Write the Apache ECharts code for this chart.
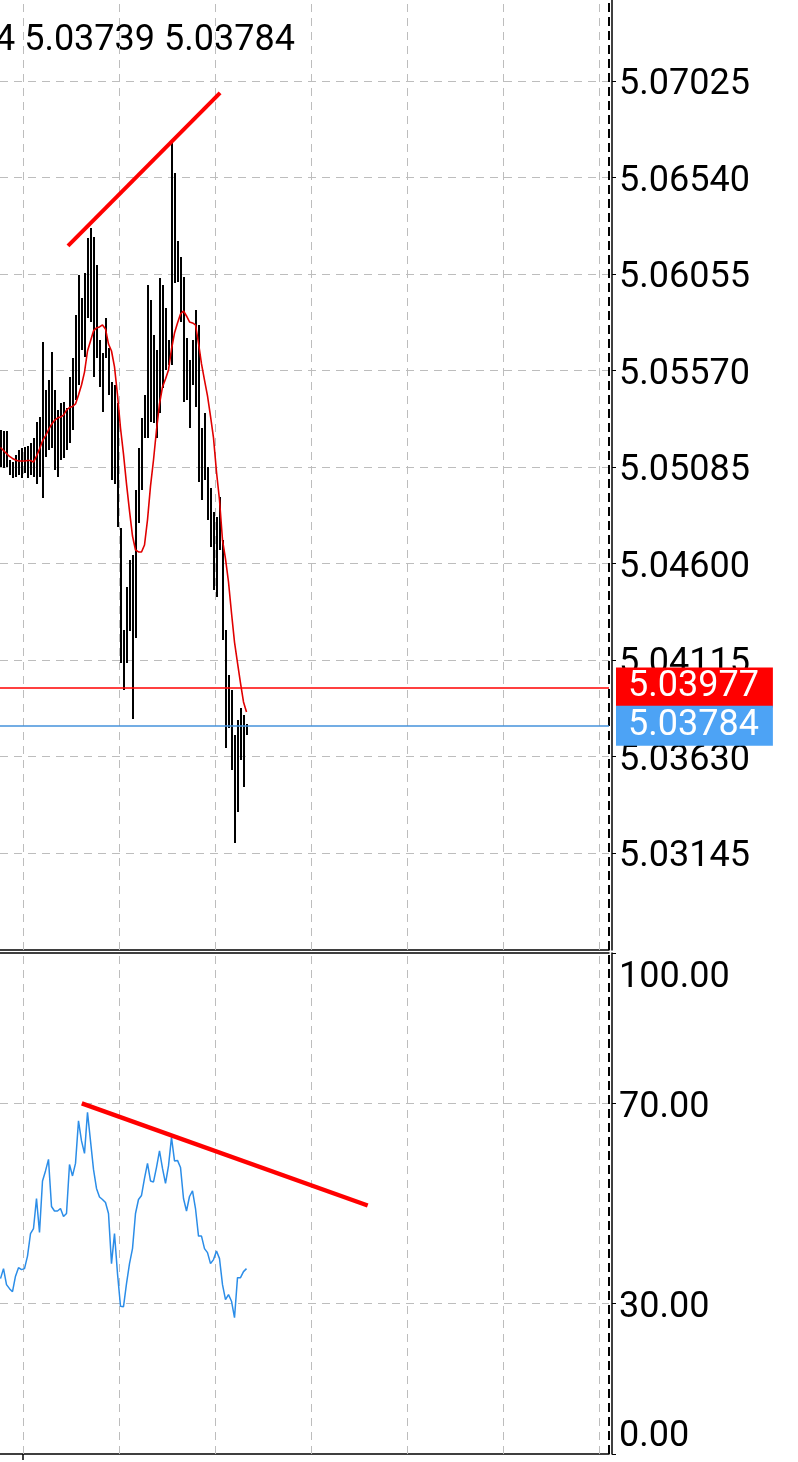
<!DOCTYPE html>
<html><head><meta charset="utf-8">
<style>html,body{margin:0;padding:0;background:#fff;}#c{width:798px;height:1462px;}</style>
<script src="https://cdn.jsdelivr.net/npm/echarts@6/dist/echarts.min.js"></script>
</head><body><div id="c"></div>
<script>
// ---- data ----
const highs = [5.05271,5.05266,5.05266,5.05120,5.05110,5.05145,5.05170,5.05180,5.05186,5.05191,
 5.05206,5.05231,5.05311,5.05336,5.05713,5.05472,5.05522,5.05663,5.05472,5.05371,
 5.05407,5.05412,5.05382,5.05537,5.05633,5.05849,5.06050,5.05934,5.06060,5.06236,
 5.06286,5.06241,5.06100,5.05723,5.05658,5.05834,5.05683,5.05512,5.05497,5.05407,
 5.04778,5.04266,5.04482,5.04618,5.04643,5.04969,5.05180,5.05331,5.05447,5.06000,
 5.05924,5.05748,5.05673,5.06035,5.06000,5.05884,5.05723,5.06713,5.06563,5.06221,
 5.06140,5.06040,5.05733,5.05623,5.05723,5.05874,5.05799,5.05281,5.05356,5.05085,
 5.04979,5.04859,5.04834,5.04934,5.04718,5.04266,5.04040,5.03964,5.03738,5.03813,
 5.03874,5.03839,5.03794];
const lows = [5.05085,5.05080,5.05085,5.05045,5.05030,5.05035,5.05045,5.05030,5.05055,5.05030,
 5.05045,5.05035,5.05000,5.05035,5.04929,5.05135,5.05170,5.05180,5.05070,5.05035,
 5.05120,5.05130,5.05170,5.05206,5.05271,5.05422,5.05497,5.05673,5.05638,5.05834,
 5.05814,5.05537,5.05633,5.05487,5.05361,5.05633,5.05447,5.05020,5.05000,5.04783,
 5.04100,5.03964,5.04100,5.04261,5.03818,5.04226,5.04804,5.04969,5.05231,5.05231,
 5.05311,5.05306,5.05231,5.05356,5.05482,5.05573,5.05598,5.05598,5.06010,5.06015,
 5.05814,5.05412,5.05422,5.05281,5.05497,5.05387,5.05010,5.04919,5.05020,5.04819,
 5.04683,5.04467,5.04432,5.04668,5.04215,5.03673,5.03773,5.03562,5.03195,5.03351,
 5.03612,5.03477,5.03739];
const maValues = [5.05183,5.05168,5.05153,5.05138,5.05128,5.05120,5.05115,5.05115,5.05115,5.05118,
 5.05118,5.05110,5.05140,5.05175,5.05216,5.05241,5.05271,5.05299,5.05319,5.05331,
 5.05336,5.05346,5.05371,5.05384,5.05389,5.05402,5.05447,5.05497,5.05562,5.05668,
 5.05718,5.05769,5.05784,5.05789,5.05799,5.05779,5.05703,5.05668,5.05588,5.05447,
 5.05281,5.05150,5.05000,5.04864,5.04738,5.04668,5.04658,5.04658,5.04693,5.04819,
 5.04989,5.05120,5.05271,5.05402,5.05487,5.05527,5.05573,5.05678,5.05758,5.05809,
 5.05854,5.05869,5.05844,5.05814,5.05809,5.05799,5.05708,5.05603,5.05522,5.05442,
 5.05341,5.05231,5.05060,5.04919,5.04718,5.04623,5.04507,5.04351,5.04205,5.04100,
 5.03999,5.03904,5.03854];
const rsiValues = [35.0,37.0,33.8,33.0,32.4,35.5,37.2,36.8,37.0,39.5,
 44.0,45.0,51.0,44.2,54.5,56.5,58.8,49.4,48.5,48.5,
 49.0,47.4,48.0,57.8,55.5,58.0,66.5,62.5,60.0,68.2,
 62.5,56.8,53.0,51.3,50.8,50.2,48.0,38.0,44.0,36.0,
 29.5,29.4,34.0,38.0,41.0,48.0,50.8,51.6,55.0,58.0,
 54.5,54.3,57.2,60.5,57.0,54.0,57.5,63.2,58.5,58.6,
 57.2,51.0,48.5,51.4,52.5,49.0,43.5,43.5,41.0,40.2,
 38.0,38.8,40.5,39.0,33.8,30.8,31.8,30.5,27.2,35.2,
 35.2,36.4,37.0];
const priceTicks = [5.07025,5.06540,5.06055,5.05570,5.05085,5.04600,5.04115,5.03630,5.03145];
const rsiTicks = [100,70,30,0];
const rsiGridLevels = [70,30];
const timeGridIdx = [7.5,39.5,71.5,103.5,135.5,167.5,199.5];
const timeTickIdx = [7.5];
const askLevel = 5.03977;
const bidLevel = 5.03784;
const priceTrend = [[22.5,5.06196],[73.2,5.06965]];
const rsiTrend = [[27.1,70.0],[122.4,49.6]];
const headerText = '4 5.03739 5.03784';
const priceRange = [5.026574, 5.074321];
const slotRange = [-1/6, 202.8333];

// ---- chart ----
const FONT = 'Roboto';
const chart = echarts.init(document.getElementById('c'), null, {renderer:'canvas', width:798, height:1462});
const gridLine = {color:'#bdbdbd', type:[8,6], width:1};
const shiftLine = {color:'#000', type:[9,5], width:2};
const black = {color:'#000', width:1.5};
const labelText = {fontSize:36, fontFamily:FONT, color:'#000'};

function levelLabel(v, bg){
  return {show:true, position:'end', distance:7, formatter: v.toFixed(5), color:'#fff',
    backgroundColor:bg, fontSize:36, fontFamily:FONT, lineHeight:31, padding:[9,14,0,12]};
}

const option = {
  animation:false,
  backgroundColor:'#fff',
  grid:[{left:0, top:0, width:609, height:950},{left:0, top:953, width:609, height:501}],
  xAxis:[
    {type:'value', gridIndex:0, min:slotRange[0], max:slotRange[1], position:'bottom',
     axisLine:{show:true, onZero:false, lineStyle:black}, axisTick:{show:false}, axisLabel:{show:false}, splitLine:{show:false}},
    {type:'value', gridIndex:1, min:slotRange[0], max:slotRange[1], position:'bottom',
     axisLine:{show:true, onZero:false, lineStyle:black},
     axisTick:{show:true, customValues:timeTickIdx, length:6, lineStyle:{color:'#000', width:1.5}},
     axisLabel:{show:false}, splitLine:{show:false}},
    {type:'value', gridIndex:1, min:slotRange[0], max:slotRange[1], position:'top',
     axisLine:{show:true, onZero:false, lineStyle:black}, axisTick:{show:false}, axisLabel:{show:false}, splitLine:{show:false}}
  ],
  yAxis:[
    {type:'value', gridIndex:0, min:priceRange[0], max:priceRange[1], position:'right', offset:3,
     axisLine:{show:true, onZero:false, lineStyle:black},
     axisTick:{show:true, customValues:priceTicks, length:4, lineStyle:{color:'#000', width:1}},
     axisLabel:{show:true, customValues:priceTicks, margin:7,
       formatter:v=>'{m|'+Number(v).toFixed(5)+'}',
       rich:{m:Object.assign({padding:[9,0,0,0]}, labelText)}},
     splitLine:{show:false}},
    {type:'value', gridIndex:1, min:0, max:100, position:'right', offset:3,
     axisLine:{show:true, onZero:false, lineStyle:black},
     axisTick:{show:true, customValues:rsiTicks, length:4, lineStyle:{color:'#000', width:1}},
     axisLabel:{show:true, customValues:rsiTicks, margin:7,
       formatter:v=> v===100 ? '{t|100.00}' : (v===0 ? '{b|0.00}' : '{m|'+Number(v).toFixed(2)+'}'),
       rich:{
         t:Object.assign({padding:[50,0,0,0]}, labelText),
         b:Object.assign({padding:[0,0,35,0]}, labelText),
         m:Object.assign({padding:[9,0,0,0]}, labelText)
       }},
     splitLine:{show:false}}
  ],
  graphic:[{type:'text', x:-5, y:41, silent:true,
    style:{text:headerText, fill:'#000', font:'36px Roboto', verticalAlign:'middle', align:'left'}}],
  series:[
    {type:'custom', name:'bars', xAxisIndex:0, yAxisIndex:0, z:2, clip:true,
     data: highs.map((h,i)=>[i,h,lows[i]]),
     encode:{x:0, y:[1,2]},
     renderItem:function(params, api){
       const i = api.value(0);
       const top = api.coord([i, api.value(1)]);
       const bot = api.coord([i, api.value(2)]);
       const x0 = Math.round(top[0] - 1);
       const y0 = Math.round(top[1]);
       const y1 = Math.round(bot[1]);
       return {type:'rect', shape:{x:x0, y:y0, width:2, height:Math.max(1, y1-y0)},
         style:{fill:'#000'}};
     },
     markLine:{silent:true, z:1, precision:6, symbol:['none','none'], animation:false, label:{show:false},
       lineStyle:gridLine, emphasis:{disabled:true},
       data:[...priceTicks.map(v=>({yAxis:v})), ...timeGridIdx.map(v=>({xAxis:v})),
             {xAxis:slotRange[1], lineStyle:shiftLine}]}
    },
    {type:'line', name:'MA', xAxisIndex:0, yAxisIndex:0, z:3, showSymbol:false, symbol:'none',
     data: maValues.map((v,i)=>[i,v]),
     lineStyle:{color:'#e00000', width:1.6},
     markLine:{silent:true, precision:6, symbol:['none','none'], animation:false, emphasis:{disabled:true},
       data:[
         {yAxis:askLevel, lineStyle:{color:'#ff0000', width:1.6, type:'solid'}, label:levelLabel(askLevel,'#ff0000')},
         {yAxis:bidLevel, lineStyle:{color:'#4592db', width:1.6, type:'solid'}, label:levelLabel(bidLevel,'#4da3f5')}
       ]}
    },
    {type:'line', name:'trend', xAxisIndex:0, yAxisIndex:0, z:4, showSymbol:false, symbol:'none',
     data: priceTrend, lineStyle:{color:'#ff0000', width:4}},
    {type:'line', name:'RSI', xAxisIndex:1, yAxisIndex:1, z:3, showSymbol:false, symbol:'none',
     data: rsiValues.map((v,i)=>[i,v]),
     lineStyle:{color:'#2b8de8', width:1.5},
     markLine:{silent:true, z:1, precision:6, symbol:['none','none'], animation:false, label:{show:false},
       lineStyle:gridLine, emphasis:{disabled:true},
       data:[...rsiGridLevels.map(v=>({yAxis:v})), ...timeGridIdx.map(v=>({xAxis:v})),
             {xAxis:slotRange[1], lineStyle:shiftLine}]}
    },
    {type:'line', name:'rsiTrend', xAxisIndex:1, yAxisIndex:1, z:4, showSymbol:false, symbol:'none',
     data: rsiTrend, lineStyle:{color:'#ff0000', width:4.5}}
  ]
};
chart.setOption(option);
</script></body></html>
